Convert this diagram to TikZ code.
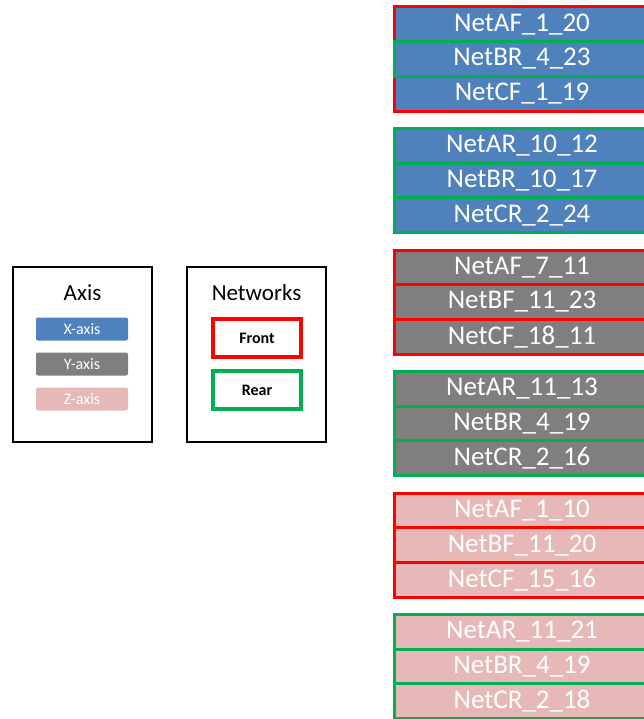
\documentclass[tikz,border=0pt]{standalone}
\usepackage{fontspec}
\setmainfont{Carlito}
\definecolor{xblue}{HTML}{4F81BD}
\definecolor{ygray}{HTML}{7F7F7F}
\definecolor{zpink}{HTML}{E6B9B8}
\definecolor{frontred}{HTML}{FF0000}
\definecolor{reargreen}{HTML}{00B050}
\tikzset{
  netrow/.style={minimum width=255pt, minimum height=34.7pt, line width=3pt, text=white, inner sep=0pt, font=\fontsize{27}{29}\selectfont, anchor=center},
  legbox/.style={draw=black, line width=1.5pt, minimum width=139pt, minimum height=175pt, inner sep=0pt},
  axistag/.style={minimum width=92pt, minimum height=23pt, rounded corners=2pt, text=white, inner sep=0pt, font=\fontsize{16}{18}\selectfont},
  nettag/.style={minimum width=88pt, minimum height=38pt, line width=4pt, text=black, inner sep=0pt, font=\fontsize{16}{18}\selectfont\bfseries},
  legtitle/.style={font=\fontsize{23}{25}\selectfont, inner sep=0pt}
}
\begin{document}
\begin{tikzpicture}[x=1pt,y=-1pt]
\useasboundingbox (0,0) rectangle (644,719);
\clip (0,0) rectangle (644,719);
\fill[white] (0,0) rectangle (644,719);
% legend
\node[legbox] (axisbox) at (82.5,354.5) {};
\node[legtitle] (axistitle) at (82.5,293) {Axis};
\node[axistag, fill=xblue] (xax) at (82,329) {X-axis};
\node[axistag, fill=ygray] (yax) at (82,364) {Y-axis};
\node[axistag, fill=zpink] (zax) at (82,399) {Z-axis};
\node[legbox] (netbox) at (256.5,354.5) {};
\node[legtitle] (nettitle) at (256.5,293) {Networks};
\node[nettag, draw=frontred] (front) at (257,338) {Front};
\node[nettag, draw=reargreen] (rear) at (257,390) {Rear};
% group 1 (X-axis)
\node[netrow, fill=xblue, draw=frontred] (g1a) at (522,24.35) {NetAF\_1\_20};
\node[netrow, fill=xblue, draw=frontred] (g1c) at (522,93.75) {NetCF\_1\_19};
\node[netrow, fill=xblue, draw=reargreen] (g1b) at (522,59.05) {NetBR\_4\_23};
% group 2
\node[netrow, fill=xblue, draw=reargreen] (g2a) at (522,145.85) {NetAR\_10\_12};
\node[netrow, fill=xblue, draw=reargreen] (g2b) at (522,180.55) {NetBR\_10\_17};
\node[netrow, fill=xblue, draw=reargreen] (g2c) at (522,215.25) {NetCR\_2\_24};
% group 3 (Y-axis)
\node[netrow, fill=ygray, draw=frontred] (g3a) at (522,267.35) {NetAF\_7\_11};
\node[netrow, fill=ygray, draw=frontred] (g3b) at (522,302.05) {NetBF\_11\_23};
\node[netrow, fill=ygray, draw=frontred] (g3c) at (522,336.75) {NetCF\_18\_11};
% group 4
\node[netrow, fill=ygray, draw=reargreen] (g4a) at (522,388.85) {NetAR\_11\_13};
\node[netrow, fill=ygray, draw=reargreen] (g4b) at (522,423.55) {NetBR\_4\_19};
\node[netrow, fill=ygray, draw=reargreen] (g4c) at (522,458.25) {NetCR\_2\_16};
% group 5 (Z-axis)
\node[netrow, fill=zpink, draw=frontred] (g5a) at (522,510.35) {NetAF\_1\_10};
\node[netrow, fill=zpink, draw=frontred] (g5b) at (522,545.05) {NetBF\_11\_20};
\node[netrow, fill=zpink, draw=frontred] (g5c) at (522,579.75) {NetCF\_15\_16};
% group 6
\node[netrow, fill=zpink, draw=reargreen] (g6a) at (522,631.85) {NetAR\_11\_21};
\node[netrow, fill=zpink, draw=reargreen] (g6b) at (522,666.55) {NetBR\_4\_19};
\node[netrow, fill=zpink, draw=reargreen] (g6c) at (522,701.25) {NetCR\_2\_18};
\end{tikzpicture}
\end{document}
